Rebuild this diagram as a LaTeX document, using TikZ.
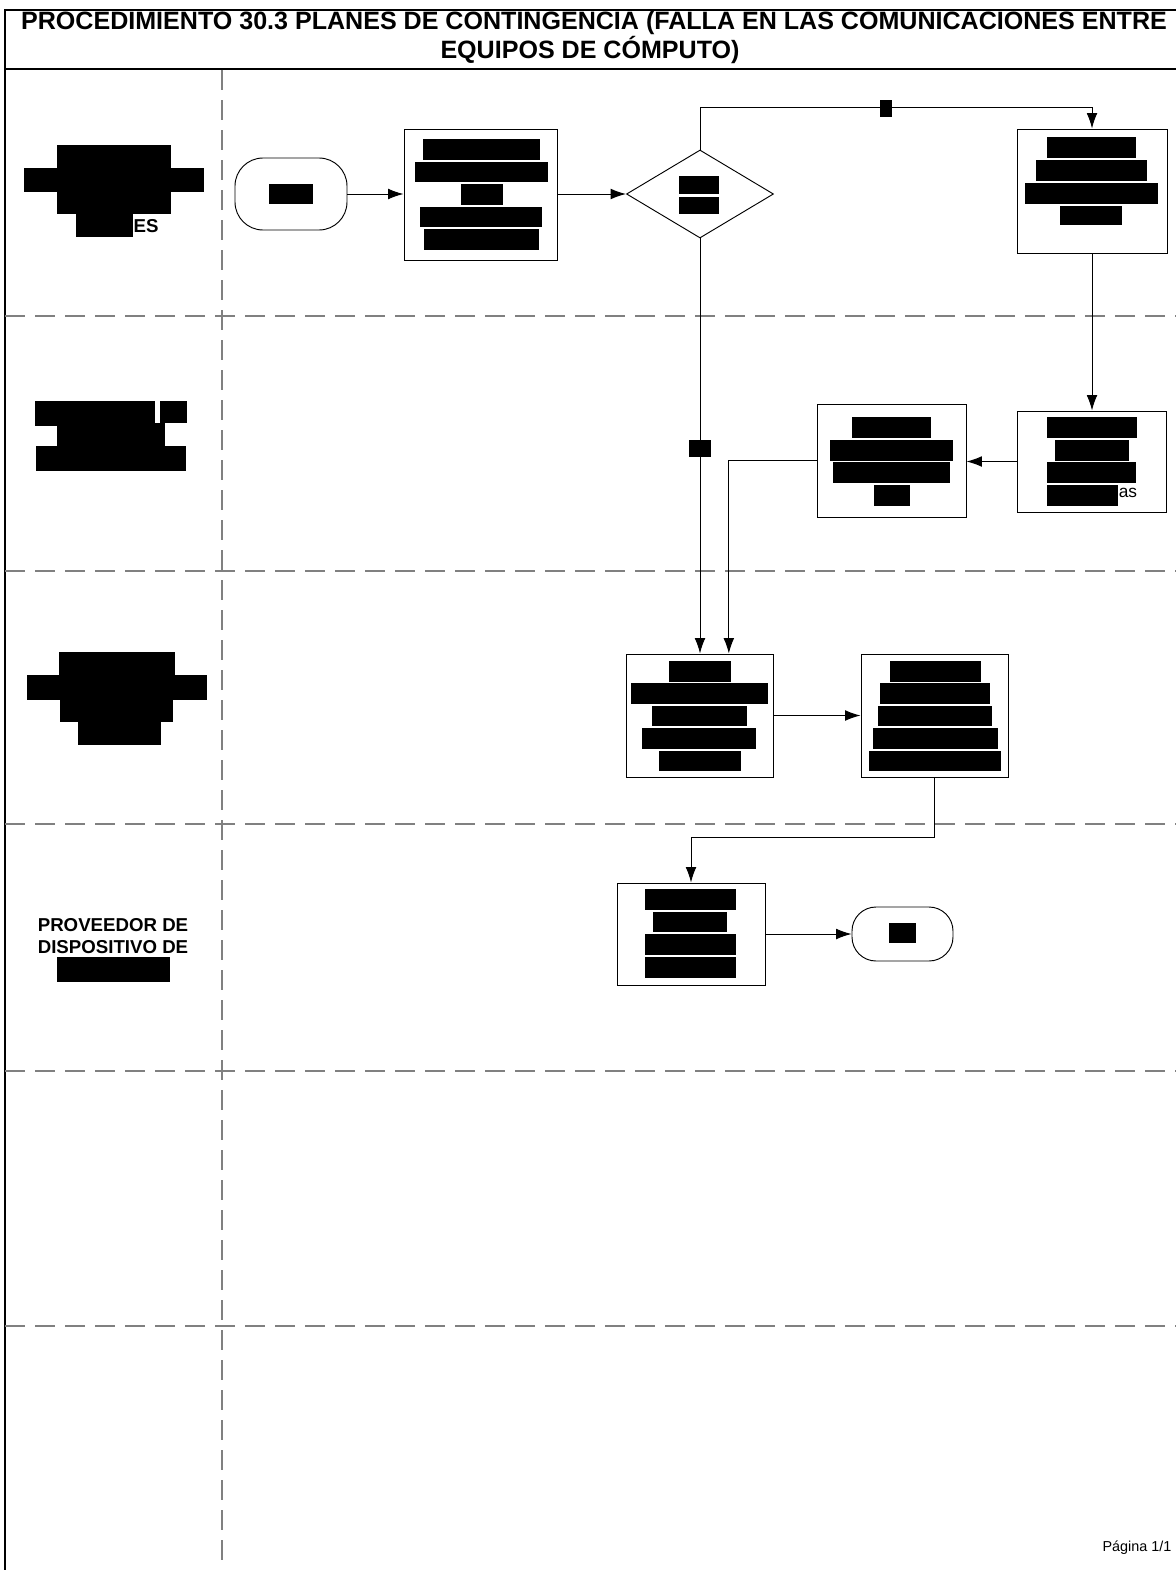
\documentclass[tikz,border=0pt]{standalone}
\usepackage{fontspec}
\setmainfont{Liberation Sans}
\usetikzlibrary{shapes.geometric,arrows.meta,calc}
\newcommand\rbar[4]{\fill[black] (#1,#2) rectangle (#3,#4);}
\begin{document}
\begin{tikzpicture}[x=0.75pt,y=-0.75pt,
  procbox/.style={draw=black,line width=0.75pt,fill=white,inner sep=0pt},
  termbox/.style={draw=black,line width=0.7pt,fill=white,inner sep=0pt,rounded corners=21pt},
  decbox/.style={diamond,draw=black,line width=0.7pt,fill=white,inner sep=0pt},
  arr/.style={draw=black,line width=0.75pt,-{Latex[length=11.5pt,width=8pt]}},
  lane/.style={draw=gray,line width=1.5pt,dash pattern=on 15pt off 7.5pt},
  marker/.style={fill=black,inner sep=0pt},
  ttl/.style={font=\fontsize{18.8pt}{21pt}\selectfont\bfseries,inner sep=0pt},
  lbl/.style={font=\fontsize{14pt}{16.5pt}\selectfont\bfseries,inner sep=0pt,align=center}
]
\useasboundingbox (0,0) rectangle (1176,1570);
% frame
\draw[line width=1.6pt] (5,10) -- (5,1570);
\draw[line width=1.6pt] (4,10) -- (1176,10);
\draw[line width=2pt] (4,69) -- (1176,69);
\node[ttl,anchor=base] (t1) at (594,30) {PROCEDIMIENTO 30.3 PLANES DE CONTINGENCIA (FALLA EN LAS COMUNICACIONES ENTRE};
\node[ttl,anchor=base] (t2) at (590,59) {EQUIPOS DE CÓMPUTO)};
% lanes
\draw[lane] (222,70) -- (222,1570);
\foreach \yy in {316,571,824,1071,1326} {\draw[lane] (5,\yy) -- (1176,\yy);}
% lane labels (redacted)
\rbar{57}{145}{171}{168}
\rbar{24}{168}{204}{192}
\rbar{57}{192}{171}{214}
\rbar{76}{214}{133}{237}
\node[lbl] (es) at (146,226) {ES};
\rbar{35}{401}{155}{426}
\rbar{160}{401}{187}{423}
\rbar{57}{423}{165}{446}
\rbar{36}{446}{186}{471}
\rbar{59}{652}{175}{675}
\rbar{27}{675}{207}{700}
\rbar{60}{700}{173}{722}
\rbar{78}{722}{161}{745}
\node[lbl] (prov) at (113,936) {PROVEEDOR DE\\DISPOSITIVO DE};
\rbar{57}{957}{170}{982}
% nodes
\node[termbox,minimum width=84pt,minimum height=54pt] (S) at (291,194) {};
\node[procbox,minimum width=114.75pt,minimum height=98.25pt] (A) at (480.5,194.5) {};
\node[decbox,minimum width=110.25pt,minimum height=66pt] (Q) at (700,194) {};
\node[procbox,minimum width=112.5pt,minimum height=93pt] (B) at (1092,191) {};
\node[procbox,minimum width=111.75pt,minimum height=75.75pt] (C) at (1091.5,461.5) {};
\node[procbox,minimum width=111.75pt,minimum height=84.75pt] (D) at (891.5,460.5) {};
\node[procbox,minimum width=110.25pt,minimum height=92.25pt] (E) at (699.5,715.5) {};
\node[procbox,minimum width=110.25pt,minimum height=92.25pt] (F) at (934.5,715.5) {};
\node[procbox,minimum width=111pt,minimum height=76.5pt] (G) at (691,934) {};
\node[termbox,minimum width=75.75pt,minimum height=40.5pt,rounded corners=18pt] (End) at (902.5,934) {};
% redacted text in nodes
\rbar{269}{184}{313}{204}
\rbar{423}{139}{540}{160}
\rbar{415}{162}{548}{182}
\rbar{461}{184}{503}{205}
\rbar{420}{207}{542}{227}
\rbar{424}{229}{539}{250}
\rbar{679}{176}{719}{194}
\rbar{679}{197}{719}{214}
\rbar{1047}{137}{1136}{158}
\rbar{1036}{160}{1147}{181}
\rbar{1025}{183}{1158}{204}
\rbar{1060}{206}{1122}{225}
\rbar{1047}{417}{1137}{438}
\rbar{1055}{440}{1129}{461}
\rbar{1047}{462}{1136}{483}
\rbar{1047}{485}{1118}{506}
\node[font=\fontsize{13pt}{15pt}\selectfont,inner sep=0pt] (as) at (1128,493) {as};
\rbar{852}{417}{931}{438}
\rbar{830}{440}{953}{461}
\rbar{833}{462}{950}{483}
\rbar{874}{485}{910}{506}
\rbar{669}{661}{731}{682}
\rbar{631}{683}{768}{704}
\rbar{652}{706}{747}{726}
\rbar{642}{728}{756}{749}
\rbar{659}{751}{741}{771}
\rbar{890}{661}{981}{682}
\rbar{880}{683}{990}{704}
\rbar{878}{706}{992}{726}
\rbar{873}{728}{998}{749}
\rbar{869}{751}{1001}{771}
\rbar{645}{889}{736}{910}
\rbar{653}{912}{727}{932}
\rbar{645}{934}{736}{955}
\rbar{645}{957}{736}{978}
\rbar{889}{923}{916}{943}
% connectors
\coordinate (qy) at (700,107);
\draw[arr] (S.east) -- (S.east -| A.west);
\draw[arr] (A.east |- Q.west) -- (Q.west);
\draw[arr] (Q.north) -- (qy) -| (B.north);
\node[marker,minimum width=9pt,minimum height=12.75pt] (m1) at (885.5,108.5) {};
\draw[arr] (B.south) -- (B.south |- C.north);
\draw[arr] (C.west) -- (C.west -| D.east);
\draw[arr] (D.west) -| ([xshift=22pt]E.north);
\draw[arr] (Q.south) -- (Q.south |- E.north);
\node[marker,minimum width=16.5pt,minimum height=12.75pt] (m2) at (700,448.5) {};
\draw[arr] (E.east) -- (E.east -| F.west);
\draw[arr] (F.south) -- ++(0,60) -| (G.north);
\draw[arr] (G.east) -- (End.west);
% footer
\node[font=\fontsize{10.8pt}{13pt}\selectfont,inner sep=0pt] (pg) at (1137,1548) {Página 1/1};
\end{tikzpicture}
\end{document}
